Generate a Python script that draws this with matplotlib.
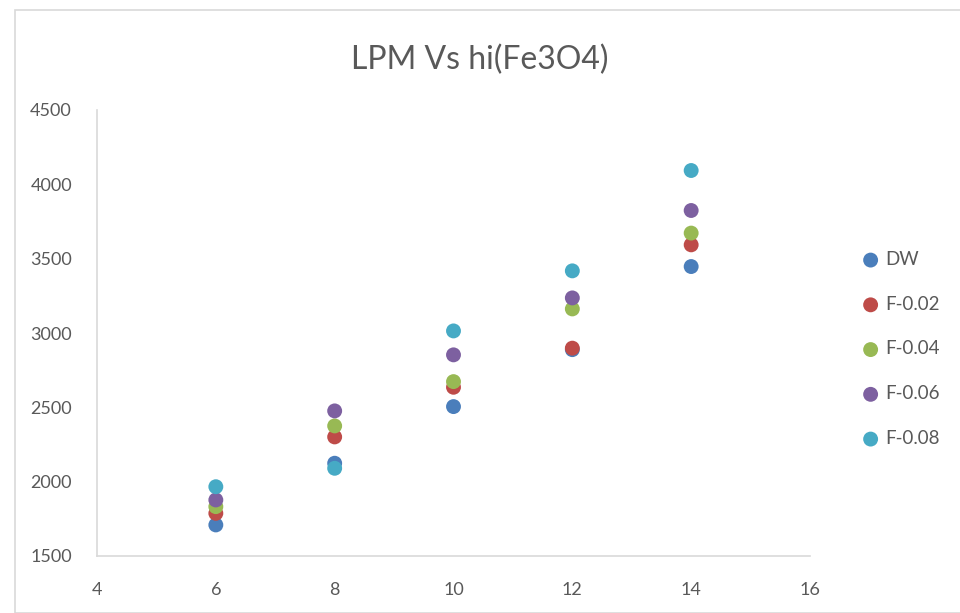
import matplotlib
matplotlib.use("Agg")
import matplotlib.pyplot as plt
from matplotlib.patches import Rectangle

x = [6, 8, 10, 12, 14]
dw = [1709, 2124, 2505, 2888, 3447]
f002 = [1787, 2301, 2635, 2898, 3593]
f004 = [1832, 2375, 2673, 3162, 3672]
f006 = [1877, 2476, 2853, 3236, 3824]
f008 = [1966, 2090, 3014, 3418, 4093]
series_names = ["DW", "F-0.02", "F-0.04", "F-0.06", "F-0.08"]
series_vals = [dw, f002, f004, f006, f008]
colors = ["#4A7EBB", "#BE4B48", "#98B954", "#7D60A0", "#46AAC5"]

plt.rcParams['font.family'] = ['Lato', 'DejaVu Sans']
fig = plt.figure(figsize=(9.6, 6.13), dpi=100)
ax = fig.add_axes([97/960, 1-556/613, (810-97)/960, (556-110)/613])

for name, vals, c in zip(series_names, series_vals, colors):
    ax.scatter(x, vals, s=115, color=c, label=name, edgecolors='none', zorder=3)

ax.set_xlim(4, 16)
ax.set_ylim(1500, 4500)
ax.set_xticks(range(4, 17, 2))
ax.set_yticks(range(1500, 4501, 500))
for s in ["top", "right"]:
    ax.spines[s].set_visible(False)
for s in ["left", "bottom"]:
    ax.spines[s].set_color("#D9D9D9")
    ax.spines[s].set_linewidth(1.2)
ax.tick_params(length=0, labelsize=13, colors="#595959")
ax.tick_params(axis='y', pad=18)
ax.tick_params(axis='x', pad=19)

fig.text(0.5, 1-60/613, "LPM Vs hi(Fe3O4)", ha='center', va='center',
         fontsize=23, color="#595959")

leg = ax.legend(loc='center left', bbox_to_anchor=(835/960, 1-349/613),
                bbox_transform=fig.transFigure, frameon=False,
                fontsize=13.5, labelspacing=1.48, handletextpad=-0.2,
                markerscale=1.0, scatterpoints=1)
for t in leg.get_texts():
    t.set_color("#595959")

fig.patches.append(Rectangle((15/960, 0), 1, 1 - 10/613, transform=fig.transFigure,
                             fill=False, edgecolor="#D9D9D9", linewidth=1.2))

fig.savefig("out.png", dpi=100)
